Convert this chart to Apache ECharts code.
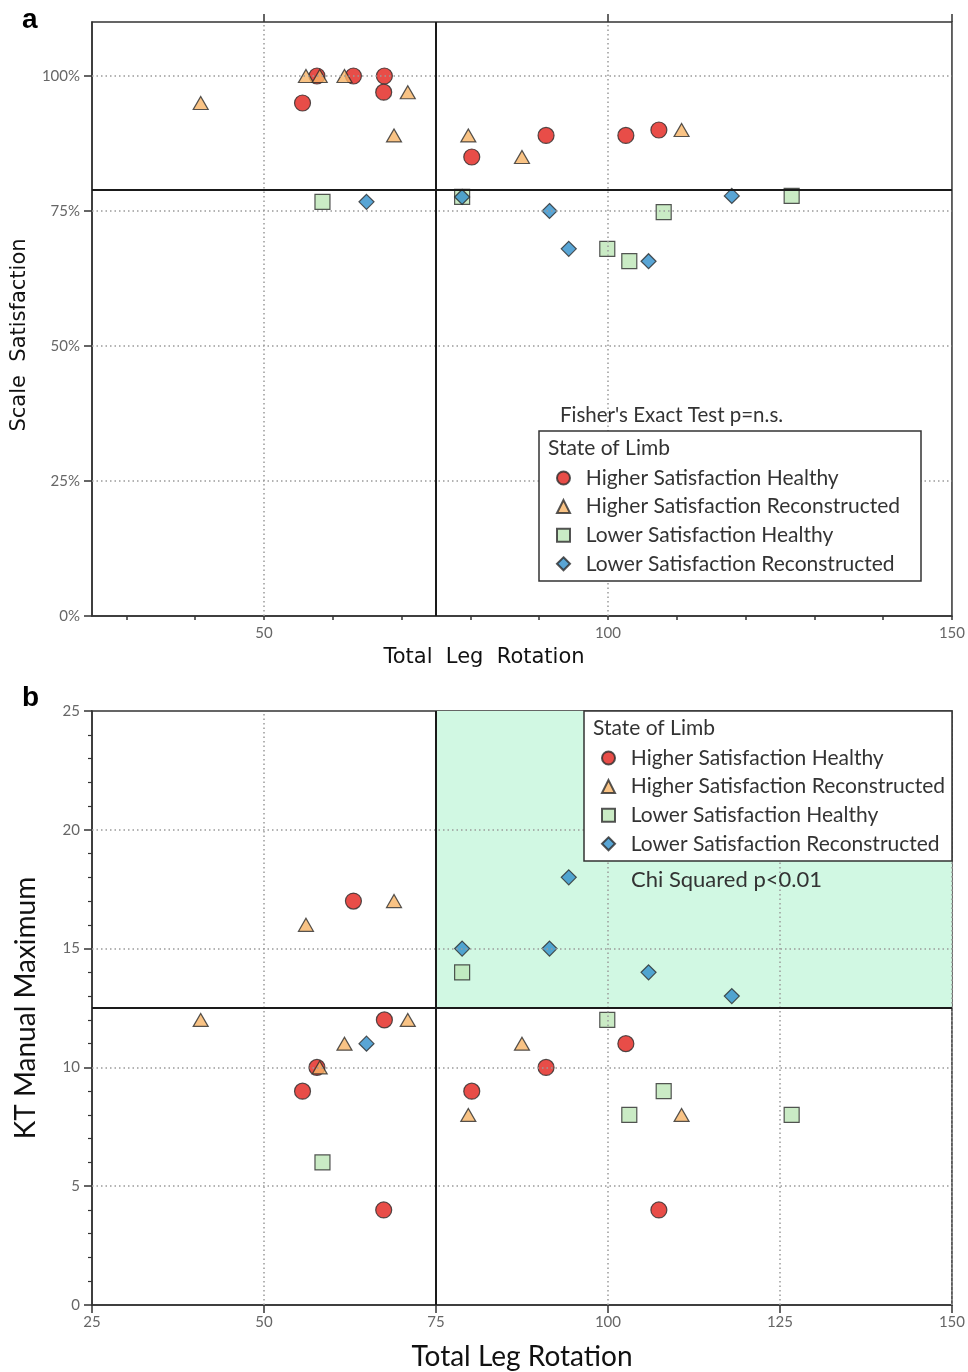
<!DOCTYPE html>
<html>
<head>
<meta charset="utf-8">
<script src="https://cdn.jsdelivr.net/npm/echarts@6/dist/echarts.min.js"></script>
<style>
  html, body { margin: 0; padding: 0; background: #fff; }
  #chart { width: 968px; height: 1372px; }
</style>
</head>
<body>
<div id="chart"></div>
<script>
// legend names
var groupNames = [
  'Higher Satisfaction Healthy',
  'Higher Satisfaction Reconstructed',
  'Lower Satisfaction Healthy',
  'Lower Satisfaction Reconstructed'
];

// total leg rotation per patient, by group
var hshRot = [55.6, 57.7, 63.0, 67.5, 67.4, 80.2, 91.0, 102.6, 107.4];
var hsrRot = [40.8, 56.1, 58.1, 61.7, 70.9, 68.9, 79.7, 87.5, 110.7];
var lshRot = [58.5, 78.8, 99.9, 103.1, 108.1, 126.7];
var lsrRot = [64.9, 78.8, 91.5, 94.3, 105.9, 118.0];

// scale satisfaction (%) - panel a
var hshSat = [95, 100, 100, 100, 97, 85, 89, 89, 90];
var hsrSat = [95, 100, 100, 100, 97, 89, 89, 85, 90];
var lshSat = [76.7, 77.6, 68, 65.7, 74.8, 77.8];
var lsrSat = [76.7, 77.6, 75, 68, 65.7, 77.8];

// KT manual maximum - panel b
var hshKt = [9, 10, 17, 12, 4, 9, 10, 11, 4];
var hsrKt = [12, 16, 10, 11, 12, 17, 8, 11, 8];
var lshKt = [6, 14, 12, 8, 9, 8];
var lsrKt = [11, 15, 15, 18, 14, 13];

// cut lines
var rotCut = 75;
var satCut = 79;
var ktCut = 12.5;

// axis ticks
var xMinorTicksA = [30, 40, 50, 60, 70, 80, 90, 100, 110, 120, 130, 140, 150];
var xMajorTicksA = [50, 100, 150];
var yTicksA = [0, 25, 50, 75, 100];
var xGridA = [50, 100];
var yGridA = [25, 50, 75, 100];
var xGridB = [50, 100, 125, 150];
var yGridB = [5, 10, 15, 20];

var FONT = 'Lato';
var colors = ['#e2201a', '#f7b466', '#bde6b6', '#2f8fcb'];
var symbols = ['circle', 'triangle', 'rect', 'diamond'];
var sizes = [16, [15, 13], 15, 15];

function pairs(xs, ys) {
  return xs.map(function (v, i) { return [v, ys[i]]; });
}

var rots = [hshRot, hsrRot, lshRot, lsrRot];
var sats = [hshSat, hsrSat, lshSat, lsrSat];
var kts = [hshKt, hsrKt, lshKt, lsrKt];

var dotted = { color: '#9a9a9a', width: 1.5, type: [1.5, 3] };
var solid = { color: '#1a1a1a', width: 2, type: 'solid' };

function lineData(xs, ys) {
  return xs.map(function (v) { return { xAxis: v }; })
    .concat(ys.map(function (v) { return { yAxis: v }; }));
}

var series = [
  // panel a reference lines
  {
    type: 'scatter', name: 'gridA', xAxisIndex: 0, yAxisIndex: 0, data: [], z: 1, silent: true,
    markLine: { silent: true, symbol: 'none', label: { show: false }, lineStyle: dotted,
      data: lineData(xGridA, yGridA) }
  },
  {
    type: 'scatter', name: 'cutA', xAxisIndex: 0, yAxisIndex: 0, data: [], z: 2, silent: true,
    markLine: { silent: true, symbol: 'none', label: { show: false }, lineStyle: solid,
      data: lineData([rotCut], [satCut]) }
  },
  // panel b shaded quadrant and lines
  {
    type: 'scatter', name: 'areaB', xAxisIndex: 2, yAxisIndex: 1, data: [], z: 0, silent: true,
    markArea: { silent: true, itemStyle: { color: '#d1f8e3' },
      data: [[{ xAxis: rotCut, yAxis: ktCut }, { xAxis: 150, yAxis: 25 }]] }
  },
  {
    type: 'scatter', name: 'gridB', xAxisIndex: 2, yAxisIndex: 1, data: [], z: 1, silent: true,
    markLine: { silent: true, symbol: 'none', label: { show: false }, lineStyle: dotted,
      data: lineData(xGridB, yGridB) }
  },
  {
    type: 'scatter', name: 'cutB', xAxisIndex: 2, yAxisIndex: 1, data: [], z: 2, silent: true,
    markLine: { silent: true, symbol: 'none', label: { show: false }, lineStyle: solid,
      data: lineData([rotCut], [ktCut]) }
  }
];

groupNames.forEach(function (name, g) {
  var style = { color: colors[g], borderColor: '#2a2a2a', borderWidth: 1.2 };
  series.push({
    type: 'scatter', name: name, xAxisIndex: 0, yAxisIndex: 0, z: 3,
    symbol: symbols[g], symbolSize: sizes[g], itemStyle: style,
    data: pairs(rots[g], sats[g])
  });
  series.push({
    type: 'scatter', name: name, xAxisIndex: 2, yAxisIndex: 1, z: 3,
    symbol: symbols[g], symbolSize: sizes[g], itemStyle: style,
    data: pairs(rots[g], kts[g])
  });
});

var tickLabel = { color: '#666', fontSize: 15, fontFamily: FONT };
var axLine = { show: true, lineStyle: { color: '#333', width: 1.5 } };

function legendFor(left, top) {
  return {
    data: groupNames, orient: 'vertical', left: left, top: top, z: 20,
    itemWidth: 13, itemHeight: 13, itemGap: 6.6, padding: 0,
    selectedMode: false,
    formatter: function (n) { return '  ' + n; },
    textStyle: { fontFamily: FONT, fontSize: 21, color: '#333', lineHeight: 22 }
  };
}

var option = {
  backgroundColor: '#fff',
  animation: false,
  grid: [
    { left: 92, top: 22, width: 861, height: 594, show: true, borderColor: '#333', borderWidth: 1.5 },
    { left: 92, top: 711, width: 860, height: 594, show: true, borderColor: '#333', borderWidth: 1.5 }
  ],
  xAxis: [
    {
      gridIndex: 0, type: 'value', min: 25, max: 150,
      axisLine: axLine,
      axisTick: { customValues: xMinorTicksA, length: 4, lineStyle: { color: '#333', width: 1.5 } },
      axisLabel: Object.assign({ customValues: xMajorTicksA, margin: 10 }, tickLabel),
      splitLine: { show: false }
    },
    {
      gridIndex: 0, type: 'value', min: 25, max: 150,
      axisLine: { show: false },
      axisTick: { customValues: xMajorTicksA, length: 8, lineStyle: { color: '#333', width: 1.5 } },
      axisLabel: { show: false },
      splitLine: { show: false }
    },
    {
      gridIndex: 1, type: 'value', min: 25, max: 150, interval: 25,
      axisLine: axLine,
      axisTick: { length: 8, lineStyle: { color: '#333', width: 1.5 } },
      axisLabel: Object.assign({ margin: 10 }, tickLabel),
      splitLine: { show: false },
      name: 'Total Leg Rotation', nameLocation: 'middle', nameGap: 38,
      nameTextStyle: { fontFamily: FONT, fontSize: 28, color: '#111' }
    }
  ],
  yAxis: [
    {
      gridIndex: 0, type: 'value', min: 0, max: 110, interval: 25,
      axisLine: axLine,
      axisTick: { customValues: yTicksA, length: 8, lineStyle: { color: '#333', width: 1.5 } },
      axisLabel: Object.assign({ customValues: yTicksA, formatter: '{value}%', margin: 12 }, tickLabel),
      splitLine: { show: false }
    },
    {
      gridIndex: 1, type: 'value', min: 0, max: 25, interval: 5,
      axisLine: axLine,
      axisTick: { length: 8, lineStyle: { color: '#333', width: 1.5 } },
      minorTick: { show: true, splitNumber: 5, length: 4, lineStyle: { color: '#333', width: 1.2 } },
      axisLabel: Object.assign({ margin: 12 }, tickLabel),
      splitLine: { show: false },
      name: 'KT Manual Maximum', nameLocation: 'middle', nameGap: 52,
      nameTextStyle: { fontFamily: FONT, fontSize: 28, color: '#111' }
    }
  ],
  legend: [legendFor(556, 467), legendFor(601, 747)],
  graphic: [
    { type: 'text', left: 22, top: 6, z: 20, style: { text: 'a', font: 'bold 28px "Liberation Sans"', fill: '#000' } },
    { type: 'text', left: 22, top: 684, z: 20, style: { text: 'b', font: 'bold 28px "Liberation Sans"', fill: '#000' } },
    // panel a axis titles
    { type: 'text', z: 20, x: 20, y: 335, rotation: Math.PI / 2,
      style: { text: 'Scale  Satisfaction', font: '21px "DejaVu Sans"', fill: '#111', align: 'center', verticalAlign: 'middle' } },
    { type: 'text', z: 20, x: 484, y: 658,
      style: { text: 'Total  Leg  Rotation', font: '21px "DejaVu Sans"', fill: '#111', align: 'center', verticalAlign: 'middle' } },
    { type: 'rect', z: 10, shape: { x: 539, y: 431, width: 382, height: 150 },
      style: { fill: '#fff', stroke: '#333', lineWidth: 1.5 } },
    { type: 'text', z: 20, left: 548, top: 438, style: { text: 'State of Limb', font: '21px Lato', fill: '#333' } },
    { type: 'text', z: 20, left: 560, top: 405, style: { text: "Fisher's Exact Test p=n.s.", font: '20.5px Lato', fill: '#333' } },
    { type: 'rect', z: 10, shape: { x: 584, y: 711, width: 368, height: 150 },
      style: { fill: '#fff', stroke: '#333', lineWidth: 1.5 } },
    { type: 'text', z: 20, left: 593, top: 718, style: { text: 'State of Limb', font: '21px Lato', fill: '#333' } },
    { type: 'text', z: 20, left: 631, top: 869, style: { text: 'Chi Squared p<0.01', font: '22px Lato', fill: '#333' } }
  ],
  series: series
};

var chart = echarts.init(document.getElementById('chart'));
chart.setOption(option);
window.addEventListener('resize', function () { chart.resize(); });
</script>
</body>
</html>
